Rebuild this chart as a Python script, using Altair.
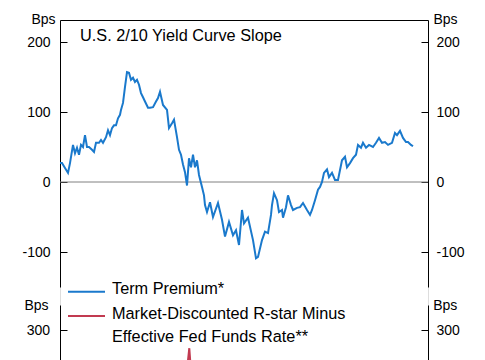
import altair as alt
import pandas as pd

# ---------------- data ----------------
title_text = "U.S. 2/10 Yield Curve Slope"
unit_label = "Bps"

# top panel: 2/10 slope, period index vs bps
slope_t = [0, 2, 5, 8, 10, 13, 15, 17, 19, 21, 23, 25, 27, 29, 32, 34, 36, 39, 41, 43,
           46, 48, 50, 52, 54, 56, 58, 60, 61, 63, 65, 67, 69, 71, 73, 75, 77, 79, 81, 83,
           85, 88, 90, 93, 96, 98, 100, 103, 107, 109, 112, 114, 117, 119, 121, 123, 125, 127, 129, 131,
           133, 135, 137, 139, 142, 144, 145, 147, 150, 153, 158, 162, 165, 169, 173, 176, 179, 182, 184, 188,
           193, 196, 198, 202, 205, 208, 211, 212, 214, 217, 219, 222, 223, 226, 228, 231, 233, 237, 240, 243,
           247, 250, 252, 255, 258, 260, 262, 264, 267, 269, 272, 275, 278, 282, 285, 287, 290, 293, 296, 298,
           301, 303, 306, 309, 313, 316, 319, 322, 325, 328, 332, 335, 337, 340, 343, 346, 348, 351, 353]
slope_bps = [27, 27, 20, 13, 27, 53, 41, 49, 39, 53, 50, 67, 50, 50, 46, 43, 56, 56, 60, 56,
             64, 74, 67, 77, 81, 81, 91, 96, 103, 113, 136, 157, 156, 146, 149, 143, 146, 139, 127, 121,
             115, 106, 106, 107, 115, 120, 129, 110, 103, 77, 84, 89, 64, 46, 39, 25, 14, -5, 34, 21,
             39, 21, 31, 10, -7, -19, -33, -43, -29, -50, -30, -54, -78, -57, -76, -69, -90, -40, -59, -51,
             -83, -109, -107, -83, -71, -73, -47, -33, -16, -26, -43, -40, -51, -36, -19, -33, -40, -37, -36, -30,
             -40, -47, -40, -26, -11, -7, 0, 13, 18, 7, 13, 3, 3, 31, 36, 21, 27, 34, 39, 53,
             49, 56, 49, 53, 50, 56, 63, 56, 57, 53, 56, 70, 67, 73, 63, 57, 57, 53, 51]

# bottom panel: only the tip of the R-star series is visible
rstar_t = [126, 129.3, 131.5]
rstar_bps = [230, 274, 230]

legend_labels = ["Term Premium*",
                 "Market-Discounted R-star Minus\nEffective Fed Funds Rate**"]
legend_colors = ["#1a79cc", "#c23a50"]

top_ticks = [-100, 0, 100, 200]
bottom_ticks = [300]

# ---------------- chart ----------------
FONT = "Liberation Sans"
W, H = 368, 340

slope_df = pd.DataFrame({"t": slope_t, "v": slope_bps})
rstar_df = pd.DataFrame({"t": rstar_t, "v": rstar_bps})
zero_df = pd.DataFrame({"v": [0]})
top_tick_df = pd.DataFrame({"v": [top_ticks[0]]})
bot_tick_df = pd.DataFrame({"v": [bottom_ticks[-1]]})

top_scale = alt.Scale(domain=[-150, 162 / 0.7], range=[267, 0], nice=False, zero=False)
bot_scale = alt.Scale(domain=[-30, 336], range=[540, 285], nice=False, zero=False)

x_enc = alt.X("t:Q", scale=alt.Scale(domain=[0, W], nice=False, zero=False),
              axis=alt.Axis(orient="top", labels=False, ticks=False, grid=False,
                            domain=True, domainColor="black", domainWidth=1, title=""))


def label_axis(orient, values, pad, tx, ty, align):
    return alt.Axis(orient=orient, values=values, ticks=False, grid=False,
                    domain=True, domainColor="black", domainWidth=1,
                    labelExpr="'' + datum.value",
                    labelFont=FONT, labelFontSize=14, labelColor="black",
                    labelPadding=pad, title=unit_label, titleAngle=0,
                    titleX=tx, titleY=ty, titleAlign=align,
                    titleBaseline="alphabetic", titleFont=FONT,
                    titleFontSize=14, titleFontWeight="normal", titleColor="black")


def tick_axis(orient, values):
    return alt.Axis(orient=orient, offset=-W, values=values, ticks=True, tickSize=7,
                    tickColor="black", tickWidth=1, labels=False, domain=False,
                    grid=False, title="")


line_top = alt.Chart(slope_df).mark_line(color=legend_colors[0], strokeWidth=2).encode(
    x=x_enc,
    y=alt.Y("v:Q", scale=top_scale, axis=label_axis("left", top_ticks, 10, -5, 3, "right")),
)
zero_rule = alt.Chart(zero_df).mark_rule(color="#808080", strokeWidth=1).encode(
    y=alt.Y("v:Q", scale=top_scale, axis=tick_axis("right", top_ticks)),
)
top_right = alt.Chart(top_tick_df).mark_rule(opacity=0).encode(
    y=alt.Y("v:Q", scale=top_scale, axis=label_axis("right", top_ticks, 8, 5, 3, "left")),
)
top_right_ticks = alt.Chart(top_tick_df).mark_rule(opacity=0).encode(
    y=alt.Y("v:Q", scale=top_scale, axis=tick_axis("left", top_ticks)),
)

line_bot = alt.Chart(rstar_df).mark_line(color=legend_colors[1], strokeWidth=2).encode(
    x=x_enc,
    y=alt.Y("v:Q", scale=bot_scale, axis=label_axis("left", bottom_ticks, 10.5, -12, 289.5, "right")),
)
bot_left_ticks = alt.Chart(bot_tick_df).mark_rule(opacity=0).encode(
    y=alt.Y("v:Q", scale=bot_scale, axis=tick_axis("right", bottom_ticks)),
)
bot_right = alt.Chart(bot_tick_df).mark_rule(opacity=0).encode(
    y=alt.Y("v:Q", scale=bot_scale, axis=label_axis("right", bottom_ticks, 8, 4.7, 289.5, "left")),
)
bot_right_ticks = alt.Chart(bot_tick_df).mark_rule(opacity=0).encode(
    y=alt.Y("v:Q", scale=bot_scale, axis=tick_axis("left", bottom_ticks)),
)

title_df = pd.DataFrame({"label": [title_text]})
title_mark = alt.Chart(title_df).mark_text(
    align="left", baseline="alphabetic", font=FONT, fontSize=16.3, color="black"
).encode(text="label:N", x=alt.value(20), y=alt.value(20.7))

leg1_df = pd.DataFrame({"label": [legend_labels[0]]})
leg2_df = pd.DataFrame({"label": [legend_labels[1]]})
leg1_rule = alt.Chart(leg1_df).mark_rule(color=legend_colors[0], strokeWidth=2).encode(
    x=alt.value(8), x2=alt.value(45), y=alt.value(271.7))
leg2_rule = alt.Chart(leg2_df).mark_rule(color=legend_colors[1], strokeWidth=2).encode(
    x=alt.value(8), x2=alt.value(45), y=alt.value(296))
leg1_text = alt.Chart(leg1_df).mark_text(
    align="left", baseline="alphabetic", font=FONT, fontSize=16.3, color="black"
).encode(text="label:N", x=alt.value(52), y=alt.value(274))
leg2_text = alt.Chart(leg2_df).mark_text(
    align="left", baseline="alphabetic", font=FONT, fontSize=16.3, color="black",
    lineBreak="\n", lineHeight=23.3
).encode(text="label:N", x=alt.value(52), y=alt.value(299))

chart = alt.layer(
    zero_rule, line_top, top_right, top_right_ticks,
    line_bot, bot_left_ticks, bot_right, bot_right_ticks,
    title_mark, leg1_rule, leg2_rule, leg1_text, leg2_text,
).resolve_scale(y="independent").properties(
    width=W, height=H,
    autosize=alt.AutoSizeParams(type="none"),
    padding={"left": 52, "top": 12, "right": 49, "bottom": 0},
    background="white",
).configure_view(strokeWidth=0).configure(font=FONT)

chart.save("out.html", embed_options={"renderer": "svg", "actions": False})
